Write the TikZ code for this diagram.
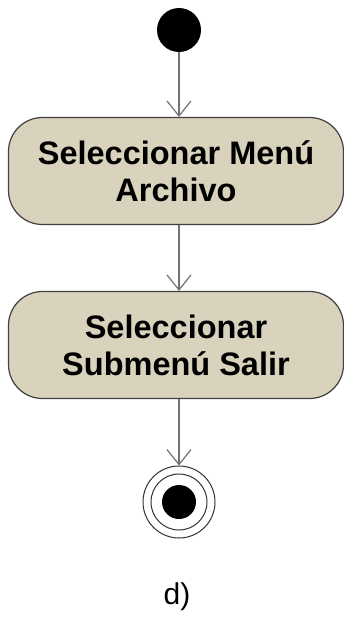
\documentclass[tikz,border=0pt]{standalone}
\usepackage{fontspec}
\setmainfont{Liberation Sans}
\usetikzlibrary{arrows.meta}

\definecolor{actfill}{RGB}{217,210,188}
\tikzset{
  accion/.style={draw=black!75, line width=1.2pt, fill=actfill, rounded corners=34pt,
    minimum width=335pt, minimum height=107pt, align=center,
    font=\bfseries\fontsize{32.5}{37}\selectfont},
  flujo/.style={draw=black!55, line width=1.4pt, -{Straight Barb[length=15pt,width=24pt,line width=1.2pt]}}
}

\begin{document}
\begin{tikzpicture}[x=1pt,y=-1pt]
  %actividad d
    \useasboundingbox (0,0) rectangle (344,618);

    \node[circle, fill=black, minimum size=44pt, inner sep=0pt] (inicio) at (179,30) {};
    \node[accion] (menu) at (176,171) {Seleccionar Menú\\Archivo};
    \node[accion] (salir) at (176,345) {Seleccionar\\Submenú Salir};
    \node[circle, draw=black!80, line width=1pt, minimum size=72pt, inner sep=0pt] (fin) at (179,502) {};
    \draw[black!80, line width=1pt] (fin.center) circle (28pt);
    \fill[black] (fin.center) circle (17pt);

    \draw[flujo] (inicio) -- (inicio |- menu.north);
    \draw[flujo] (menu.south -| inicio) -- (salir.north -| inicio);
    \draw[flujo] (salir.south -| inicio) -- (fin);

    \node[font=\fontsize{30}{36}\selectfont] (etiqueta) at (177,597) {d)};
\end{tikzpicture}
\end{document}
